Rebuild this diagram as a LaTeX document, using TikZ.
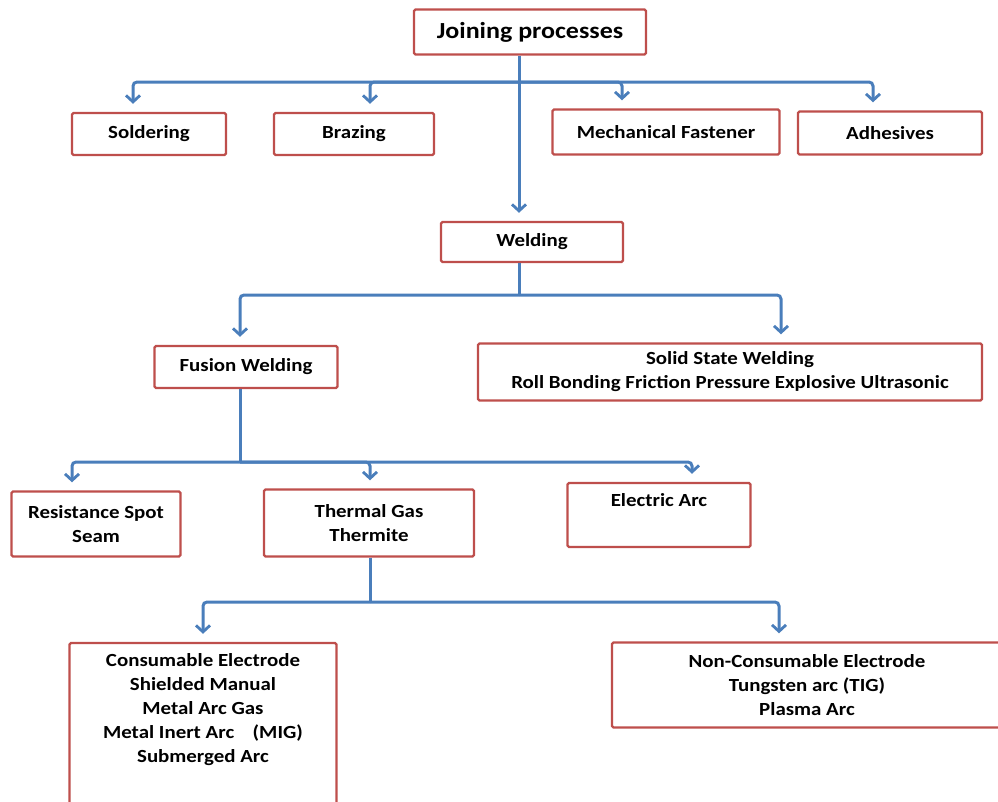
\documentclass[tikz,border=0pt]{standalone}
\usepackage{fontspec}
\setmainfont{Carlito}[FakeStretch=1.13]
\usepackage{tikz}
\usetikzlibrary{arrows.meta,positioning}
\definecolor{boxred}{HTML}{BE4F4C}
\definecolor{linkblue}{HTML}{4A7EBB}

\begin{document}
\begin{tikzpicture}[x=1pt,y=-1pt,
  box/.style={draw=boxred,line width=2.4pt,rounded corners=1.5pt,fill=white,align=center,inner sep=0pt,
    font=\bfseries\fontsize{18.5}{24}\selectfont},
  lbl/.style={align=center,inner sep=0pt,font=\bfseries\fontsize{18.5}{24}\selectfont},
  link/.style={linkblue,line width=3pt,rounded corners=4pt},
  flow/.style={link,-{Straight Barb[length=6.5pt,width=14pt,line width=2.8pt]},shorten >=8pt}]
  \useasboundingbox (0,0) rectangle (998,801);
  % boxes
  \node[box,minimum width=232,minimum height=45,font=\bfseries\fontsize{23}{28}\selectfont] (join) at (530,32) {Joining processes};
  \node[box,minimum width=154,minimum height=42] (sold) at (149,134) {Soldering};
  \node[box,minimum width=160,minimum height=42] (braz) at (354,134) {Brazing};
  \node[box,minimum width=227,minimum height=45] (mech) at (666,132) {Mechanical Fastener};
  \node[box,minimum width=184,minimum height=43] (adh) at (890,133) {Adhesives};
  \node[box,minimum width=182,minimum height=40] (weld) at (532,242) {Welding};
  \node[box,minimum width=183,minimum height=42] (fusion) at (246,367) {Fusion Welding};
  \node[box,minimum width=504,minimum height=57] (solid) at (730,372) {Solid State Welding\\Roll Bonding Friction Pressure Explosive Ultrasonic};
  \node[box,minimum width=169,minimum height=65] (resist) at (96,524) {Resistance Spot\\Seam};
  \node[box,minimum width=210,minimum height=67] (thermal) at (369,523) {Thermal Gas\\Thermite};
  \node[box,minimum width=183,minimum height=64] (elec) at (659,515) {};
  \node[lbl,below=12pt of elec.north] (elec-t) {Electric Arc};
  \node[box,minimum width=267,minimum height=170] (consum) at (203,728) {};
  \node[lbl,below=12pt of consum.north] (consum-t) {Consumable Electrode\\Shielded Manual\\Metal Arc Gas\\Metal Inert Arc\quad(MIG)\\Submerged Arc};
  \node[box,minimum width=390,minimum height=85] (noncons) at (807,685) {Non-Consumable Electrode\\Tungsten arc (TIG)\\Plasma Arc};
  % hubs
  \coordinate (hub1) at (519,82);
  \coordinate (hub2) at (519,295);
  \coordinate (hub3) at (240,462);
  \coordinate (hub4) at (370,602);
  % connectors
  \draw[link] (join.south -| hub1) -- (hub1);
  \foreach \n/\dx in {sold/-16,braz/16,mech/-44,adh/-17}
    {\draw[flow] (hub1) -| ([xshift=\dx]\n.north);}
  \draw[flow] (hub1) -- (weld.north -| hub1);
  \draw[link] (weld.south -| hub2) -- (hub2);
  \foreach \n/\dx in {fusion/-6,solid/51}
    {\draw[flow] (hub2) -| ([xshift=\dx]\n.north);}
  \draw[link] (fusion.south -| hub3) -- (hub3);
  \foreach \n/\dx in {resist/-24,thermal/1,elec/33}
    {\draw[flow] (hub3) -| ([xshift=\dx]\n.north);}
  \draw[link] (thermal.south -| hub4) -- (hub4);
  \foreach \n/\dx in {consum/0,noncons/-28}
    {\draw[flow] (hub4) -| ([xshift=\dx]\n.north);}
\end{tikzpicture}
\end{document}
